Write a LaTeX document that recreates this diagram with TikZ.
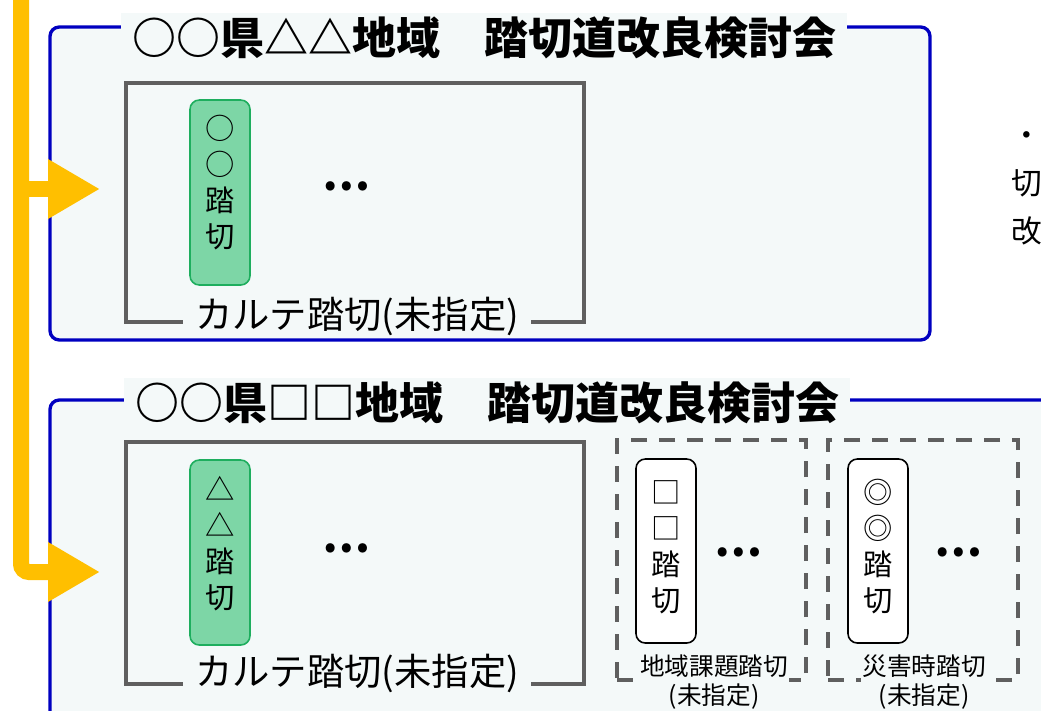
\documentclass[tikz,border=0pt]{standalone}
\usepackage{fontspec}
\setmainfont{Noto Sans CJK JP}
\usetikzlibrary{arrows.meta,fit,positioning}
\definecolor{panelblue}{HTML}{0000C0}
\definecolor{panelfill}{HTML}{F4F9F9}
\definecolor{flowgold}{HTML}{FFBF00}
\definecolor{framegray}{HTML}{5F5F5F}
\definecolor{cardgreen}{HTML}{7DD6A6}
\definecolor{cardedge}{HTML}{1EAE5E}

\begin{document}
\begin{tikzpicture}[x=0.75pt, y=-0.75pt,
    panel/.style={draw=panelblue, line width=2.5pt, fill=panelfill, rounded corners=7pt, inner sep=0pt},
    paneltitle/.style={fill=panelfill, font=\fontsize{33}{38}\selectfont\bfseries, inner xsep=8pt, inner ysep=3pt},
    frame/.style={draw=framegray, line width=2.5pt, inner sep=0pt},
    dashframe/.style={draw=framegray, line width=3.4pt, dash pattern=on 12pt off 9pt, inner sep=0pt},
    framelabel/.style={fill=panelfill, font=\fontsize{28}{32}\selectfont, inner xsep=9pt, inner ysep=2pt},
    smalllabel/.style={fill=panelfill, font=\fontsize{18.5}{22}\selectfont, align=center, inner sep=1pt},
    card/.style={rounded corners=7pt, line width=1.2pt, inner sep=0pt},
    greencard/.style={card, draw=cardedge, fill=cardgreen},
    whitecard/.style={card, draw=black, fill=white},
    cardtext/.style={font=\fontsize{22}{27}\selectfont, align=center, inner sep=0pt},
    more/.style={font=\fontsize{32}{32}\selectfont\bfseries, inner sep=0pt},
    sidetext/.style={font=\fontsize{23}{36}\selectfont, align=left, inner sep=0pt},
    flow/.style={draw=flowgold, line width=12pt, rounded corners=6pt, -{Triangle[length=39pt,width=42pt]}}
]
    \useasboundingbox (0,0) rectangle (1041,710);
    \clip (0,0) rectangle (1041,710);

    % Upper panel
    \node[panel, fit={(50,27) (930,340)}] (panelA) {};
    \node[paneltitle] (titleA) at (484,38) {○○県△△地域　踏切道改良検討会};
    \node[frame, fit={(126,83) (584,322)}] (karteA) {};
    \node[framelabel] (karteAlbl) at (357,316) {カルテ踏切(未指定)};
    \node[greencard, fit={(190,100) (250,285)}] (cardA) {};
    \node[cardtext] (cardAtxt) at (220,183) {○\\○\\踏\\切};
    \node[more] (moreA) at (346,186) {…};

    % Lower panel
    \node[panel, fit={(50,400) (1070,740)}] (panelB) {};
    \node[paneltitle] (titleB) at (487,403) {○○県□□地域　踏切道改良検討会};
    \node[frame, fit={(126,442) (584,684)}] (karteB) {};
    \node[framelabel] (karteBlbl) at (357,673) {カルテ踏切(未指定)};
    \node[greencard, fit={(190,460) (250,645)}] (cardB) {};
    \node[cardtext] (cardBtxt) at (220,544) {△\\△\\踏\\切};
    \node[more] (moreB) at (346,548) {…};

    % Not yet designated groups
    \node[dashframe, fit={(617,440) (806,680)}] (localC) {};
    \node[smalllabel] (localClbl) at (714,682) {地域課題踏切\\(未指定)};
    \node[whitecard, fit={(636,459) (696,643)}] (cardC) {};
    \node[cardtext] (cardCtxt) at (666,547) {□\\□\\踏\\切};
    \node[more] (moreC) at (738,552) {…};

    \node[dashframe, fit={(828,440) (1018,680)}] (disasterD) {};
    \node[smalllabel] (disasterDlbl) at (924,682) {災害時踏切\\(未指定)};
    \node[whitecard, fit={(848,459) (908,643)}] (cardD) {};
    \node[cardtext] (cardDtxt) at (878,547) {◎\\◎\\踏\\切};
    \node[more] (moreD) at (958,552) {…};

    % Side note (cut off at the edge)
    \node[sidetext, anchor=north west] (note) at (1011,121) {・候補踏\\切の\\改良};

    % Flow arrows
    \coordinate (flowtop) at (21,-20);
    \coordinate (split) at (21,189);
    \coordinate (inA) at (100,189);
    \coordinate (inB) at (100,572);
    \draw[flow] (flowtop) |- (inB);
    \draw[flow] (split) -- (inA);

\end{tikzpicture}
\end{document}
